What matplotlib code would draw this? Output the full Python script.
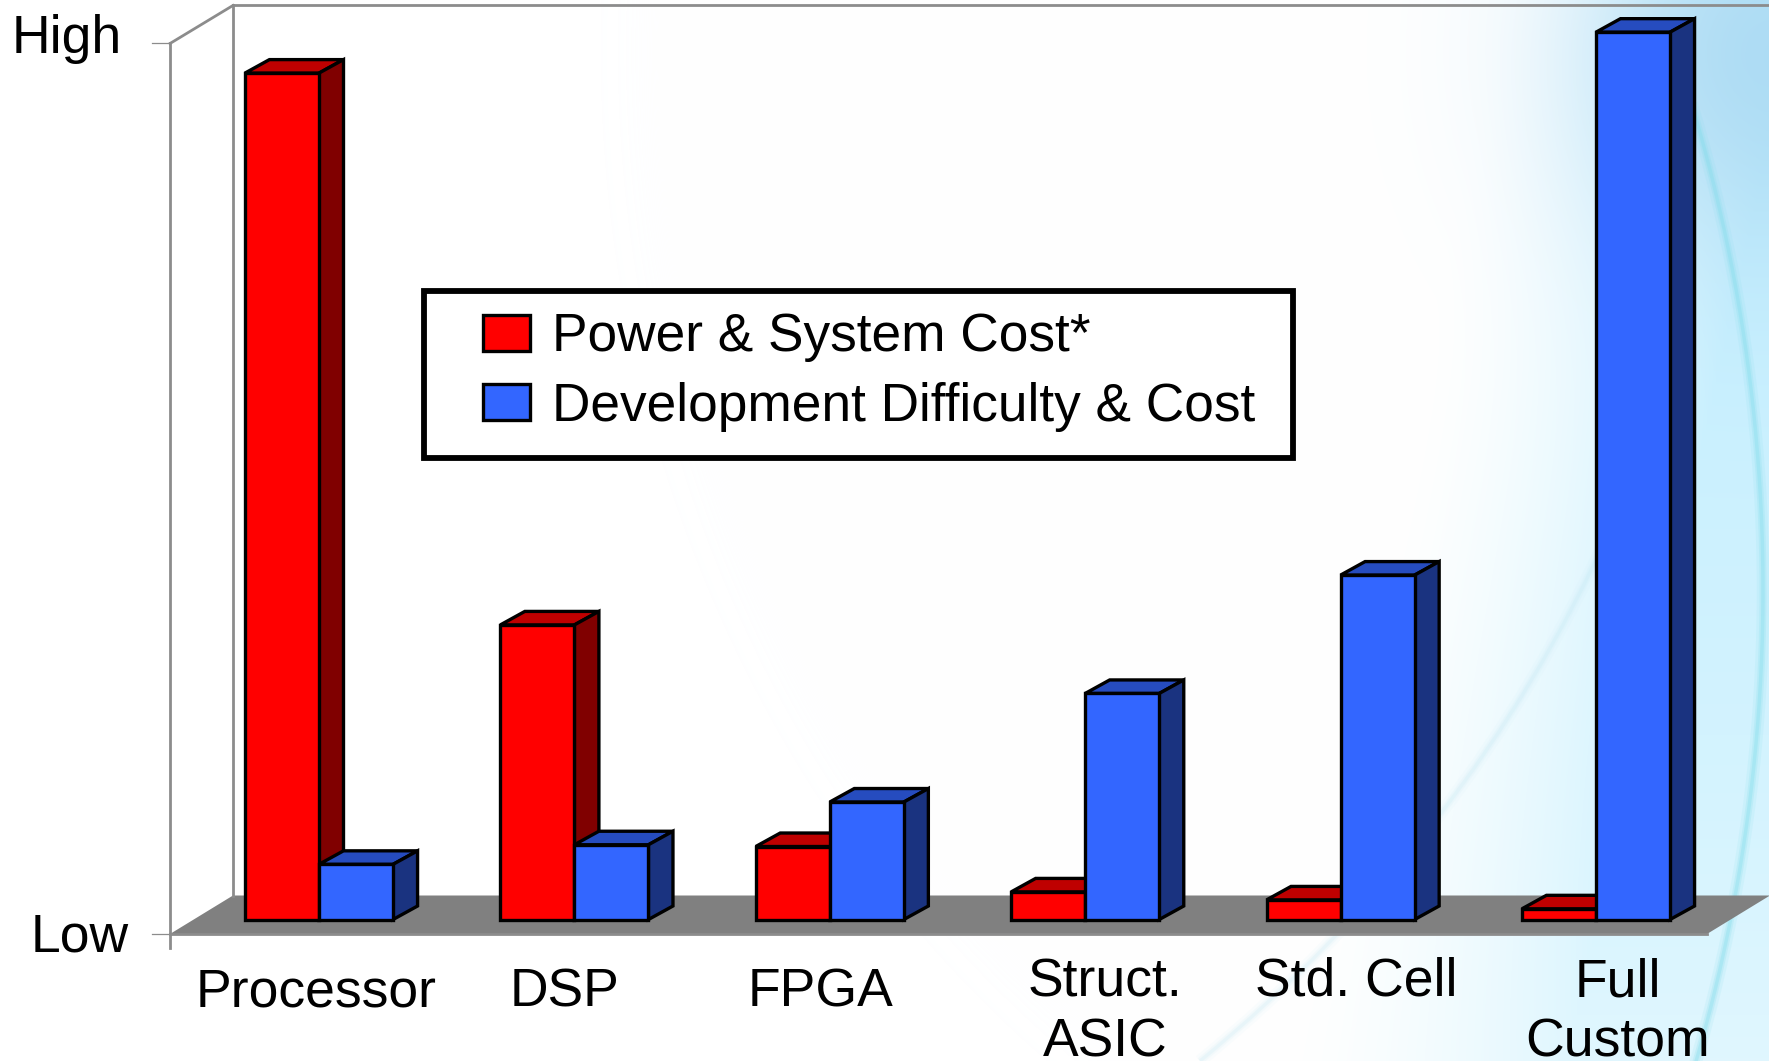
import numpy as np
import matplotlib
matplotlib.use("Agg")
import matplotlib.pyplot as plt
from matplotlib.patches import Polygon, Patch, PathPatch, Rectangle
from matplotlib.path import Path

plt.rcParams['font.family'] = ['Liberation Sans', 'DejaVu Sans']

categories = ["Processor", "DSP", "FPGA", "Struct.\nASIC", "Std. Cell", "Full\nCustom"]
power_cost = [95.1, 33.1, 8.2, 3.1, 2.2, 1.2]
dev_cost = [6.2, 8.4, 13.2, 25.4, 38.7, 99.7]
series_names = ["Power & System Cost*", "Development Difficulty & Cost"]

# label placement, the original chart nudges these by hand
label_shift = [-0.012, -0.04, -0.038, 0.078, 0.063, 0.084]
label_y = [-8.2, -8.2, -8.2, -13.75, -6.9, -13.75]

W, H = 1769, 1061
xscale = 255.4  # px per category
yscale = 8.9    # px per value unit
x0_px = 319
y0_px = 934

bar_w = 0.29
lift = 14.5 / yscale
dx = 24.5 / xscale
dy = 13.5 / yscale

reds = ("#ff0000", "#bf0000", "#800000")
blues = ("#3366ff", "#264cbf", "#1a3380")
edge = 2.4


def bar3d(ax, left, value, colors, z):
    front, top, side = colors
    ax.bar(left, value, bar_w, bottom=lift, align="edge", facecolor=front,
           edgecolor="black", linewidth=edge, zorder=z + 0.2, joinstyle="miter")
    right = left + bar_w
    y1 = lift + value
    ax.add_patch(Polygon([(left, y1), (right, y1), (right + dx, y1 + dy), (left + dx, y1 + dy)],
                         closed=True, facecolor=top, edgecolor="black", linewidth=edge,
                         joinstyle="miter", zorder=z + 0.1))
    ax.add_patch(Polygon([(right, lift), (right + dx, lift + dy), (right + dx, y1 + dy), (right, y1)],
                         closed=True, facecolor=side, edgecolor="black", linewidth=edge,
                         joinstyle="miter", zorder=z + 0.1))


fig = plt.figure(figsize=(W / 100, H / 100), dpi=100)

# slide background: white fading to pale blue on the right, with faint arcs
bg = fig.add_axes([0, 0, 1, 1], zorder=0)
yy, xx = np.mgrid[0:H, 0:W]
u = np.clip((xx - (1500 - 0.22 * yy)) / 300, 0, 1) ** 1.6
u = u * (1 - 0.45 * (yy / H) ** 2)
rgb = np.ones((H, W, 3))
tint = np.array([0.78, 0.94, 1.0])
rgb = rgb * (1 - u[..., None]) + tint * u[..., None]
blob = 0.85 * np.exp(-(((xx - 1760) / 190) ** 2 + ((yy - 50) / 210) ** 2))
dark = np.array([0.66, 0.85, 0.95])
rgb = rgb * (1 - blob[..., None]) + dark * blob[..., None]
bg.imshow(rgb, extent=(0, W, H, 0), aspect="auto", interpolation="bilinear")
ang = np.linspace(-0.288, 0.32, 200)
for w, a in [(9, 0.12), (5, 0.2), (2.5, 0.3)]:
    bg.plot(71 + 1692 * np.cos(ang), 590 + 1692 * np.sin(ang), color="#7fdcea", lw=w, alpha=a)
    bg.add_patch(PathPatch(Path([(1200, 1061), (1470, 840), (1610, 530)],
                                [Path.MOVETO, Path.CURVE3, Path.CURVE3]),
                           facecolor="none", edgecolor="#b5e3f2", lw=w, alpha=a * 0.5))
bg.set_xlim(0, W)
bg.set_ylim(H, 0)
bg.axis("off")

ax = fig.add_axes([0, 0, 1, 1], zorder=1)
ax.patch.set_alpha(0)
ax.set_xlim(-x0_px / xscale, (W - x0_px) / xscale)
ax.set_ylim((y0_px - H) / yscale, y0_px / yscale)
ax.axis("off")

# floor and walls
xl = (170 - x0_px) / xscale
xr = (1707 - x0_px) / xscale
fdx = 63 / xscale
fdy = 38.5 / yscale
ymax = (934 - 43.5) / yscale
gray = "#8c8c8c"
ax.add_patch(Polygon([(xl, 0), (xr, 0), (xr + fdx, fdy), (xl + fdx, fdy)], closed=True,
                     facecolor="#808080", edgecolor="none", zorder=1))
ax.plot([xl, xr], [0, 0], color=gray, lw=2.0, zorder=1.1)
ax.plot([xl, xl], [-14 / yscale, ymax], color=gray, lw=2.0, zorder=1.1)
ax.plot([xl + fdx, xl + fdx], [fdy, ymax + fdy], color=gray, lw=2.0, zorder=1.1)
ax.plot([xl, xl + fdx], [ymax, ymax + fdy - 0.05], color=gray, lw=2.0, zorder=1.1)
ax.plot([xl + fdx, xr + fdx + 0.1], [ymax + fdy - 0.05] * 2, color=gray, lw=2.0, zorder=1.1)
ax.plot([xl - 18 / xscale, xl], [0, 0], color=gray, lw=0.9, zorder=1.1)
ax.plot([xl - 18 / xscale, xl], [ymax, ymax], color=gray, lw=0.9, zorder=1.1)

for i in range(len(categories)):
    z = 2 + i
    bar3d(ax, i - bar_w, power_cost[i], reds, z)
    bar3d(ax, i, dev_cost[i], blues, z + 0.5)
    ax.text(i + label_shift[i], label_y[i], categories[i], ha="center", va="baseline",
            fontsize=38.5, linespacing=1.25, color="black", zorder=20, clip_on=False)

ax.text(xl - 103 / xscale, ymax + 0.5, "High", fontsize=38.5, ha="center", va="center", zorder=20)
ax.text(xl - 90 / xscale, -0.35, "Low", fontsize=38.5, ha="center", va="center", zorder=20)

ax.add_patch(Rectangle((424 / W, 1 - 458 / H), 869 / W, 167 / H, transform=ax.transAxes,
                       facecolor="white", edgecolor="black", linewidth=4.2,
                       joinstyle="miter", zorder=29))
handles = [Patch(facecolor=reds[0], edgecolor="black", linewidth=edge),
           Patch(facecolor=blues[0], edgecolor="black", linewidth=edge)]
leg = ax.legend(handles, series_names, loc="upper left", fontsize=38.3,
                bbox_to_anchor=(483 / W, 1 - 312.5 / H), borderaxespad=0, frameon=False,
                handlelength=0.88, handleheight=0.68, handletextpad=0.42,
                labelspacing=0.36, borderpad=0)
leg.set_zorder(30)

plt.savefig("out.png", dpi=100)
